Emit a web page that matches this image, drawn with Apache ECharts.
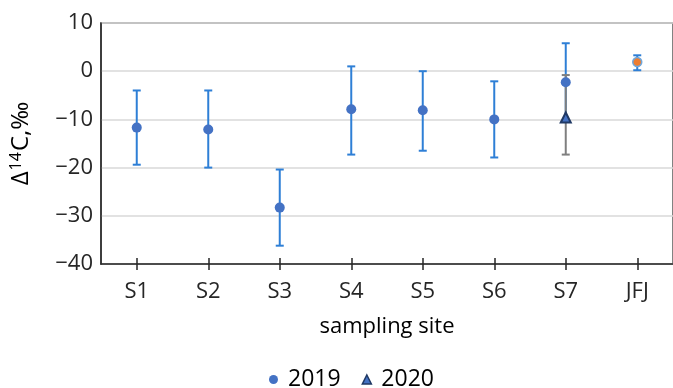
<!DOCTYPE html>
<html>
<head>
<meta charset="utf-8">
<script src="https://cdn.jsdelivr.net/npm/echarts@6/dist/echarts.min.js"></script>
<style>
  html, body { margin: 0; padding: 0; background: #fff; }
  #chart { width: 673px; height: 388px; }
</style>
</head>
<body>
<div id="chart"></div>
<script>
// sampling sites
const sites = ['S1', 'S2', 'S3', 'S4', 'S5', 'S6', 'S7', 'JFJ'];
// 2019 values (JFJ drawn separately in orange)
const mean2019 = [-11.7, -12.1, -28.3, -7.9, -8.1, -10.0, -2.3, null];
const low2019 = [-19.4, -20.0, -36.2, -17.3, -16.5, -17.9, -10.3, null];
const high2019 = [-4.0, -4.0, -20.4, 1.0, 0.0, -2.1, 5.8, null];
// JFJ reference
const meanJFJ = [null, null, null, null, null, null, null, 1.9];
const lowJFJ = [null, null, null, null, null, null, null, 0.2];
const highJFJ = [null, null, null, null, null, null, null, 3.3];
// 2020 (S7 only)
const mean2020 = [null, null, null, null, null, null, -9.6, null];
const low2020 = [null, null, null, null, null, null, -17.3, null];
const high2020 = [null, null, null, null, null, null, -0.8, null];

const FONT = 'Open Sans';

// 误差线数据
function errData(lo, hi) {
  return sites.map((s, i) => lo[i] == null ? null : [i, lo[i], hi[i]]).filter(d => d);
}

function errSeries(lo, hi, color, z) {
  return {
    type: 'custom',
    z: z,
    silent: true,
    renderItem: function (params, api) {
      const x = api.value(0);
      const top = api.coord([x, api.value(2)]);
      const bot = api.coord([x, api.value(1)]);
      const cap = 4;
      const style = { stroke: color, lineWidth: 2 };
      return {
        type: 'group',
        children: [
          { type: 'line', shape: { x1: top[0], y1: top[1], x2: bot[0], y2: bot[1] }, style: style },
          { type: 'line', shape: { x1: top[0] - cap, y1: top[1], x2: top[0] + cap, y2: top[1] }, style: style },
          { type: 'line', shape: { x1: bot[0] - cap, y1: bot[1], x2: bot[0] + cap, y2: bot[1] }, style: style }
        ]
      };
    },
    encode: { x: 0, y: [1, 2] },
    data: errData(lo, hi)
  };
}

const chart = echarts.init(document.getElementById('chart'));
chart.setOption({
  animation: false,
  grid: {
    left: 100, top: 23, width: 582, height: 241,
    show: true, borderColor: '#595959', borderWidth: 1.5, backgroundColor: 'transparent'
  },
  legend: {
    left: 264, top: 363,
    itemGap: 21,
    itemWidth: 9, itemHeight: 9,
    textStyle: { fontFamily: FONT, fontSize: 23, color: '#000', padding: [0, 0, 0, 5] },
    data: [
      { name: '2019', icon: 'circle', itemStyle: { color: '#4472c4' } },
      { name: '2020', icon: 'triangle', itemStyle: { color: '#4472c4', borderColor: '#1f3864', borderWidth: 1.5 } }
    ]
  },
  xAxis: [{
    type: 'category',
    data: sites,
    name: 'sampling site',
    nameLocation: 'middle',
    nameGap: 52,
    nameTextStyle: { fontFamily: FONT, fontSize: 22, color: '#000' },
    axisLine: { onZero: false, lineStyle: { color: '#262626', width: 1.5 } },
    axisTick: { show: true, alignWithLabel: true, length: 6, lineStyle: { color: '#262626', width: 1.5 } },
    axisLabel: { fontFamily: FONT, fontSize: 22, color: '#262626', margin: 17 },
    splitLine: { show: false }
  }, {
    // 轴上方的刻度
    type: 'category',
    data: sites,
    position: 'bottom',
    axisLine: { show: false, onZero: false },
    axisTick: { show: true, inside: true, alignWithLabel: true, length: 6, lineStyle: { color: '#262626', width: 1.5 } },
    axisLabel: { show: false },
    splitLine: { show: false }
  }],
  yAxis: {
    type: 'value',
    min: -40, max: 10, interval: 10,
    name: '{d|Δ}{s|14}{d|C,‰}',
    nameLocation: 'middle',
    nameGap: 67,
    nameTextStyle: {
      rich: {
        d: { fontFamily: FONT, fontSize: 24, color: '#000' },
        s: { fontFamily: FONT, fontSize: 16, color: '#000', verticalAlign: 'top', padding: [0, 1, 10, 1] }
      }
    },
    axisLine: { show: true, lineStyle: { color: '#262626', width: 1.5 } },
    axisTick: { show: false },
    axisLabel: {
      fontFamily: FONT, fontSize: 22, color: '#262626', margin: 8,
      formatter: v => v < 0 ? '\u2212' + Math.abs(v) : String(v)
    },
    splitLine: { lineStyle: { color: '#d9d9d9', width: 1.5 } }
  },
  series: [
    errSeries(low2019, high2019, '#2e7fd6', 2),
    errSeries(lowJFJ, highJFJ, '#2e7fd6', 2),
    errSeries(low2020, high2020, '#7f7f7f', 3),
    {
      name: '2019', type: 'scatter', z: 4,
      symbol: 'circle', symbolSize: 10,
      itemStyle: { color: '#4472c4', opacity: 1 },
      data: mean2019
    },
    {
      name: 'JFJ', type: 'scatter', z: 4,
      symbol: 'circle', symbolSize: 9,
      itemStyle: { color: '#ed7d31', borderColor: '#6fa8dc', borderWidth: 1.5, opacity: 1 },
      data: meanJFJ
    },
    {
      name: '2020', type: 'scatter', z: 5,
      symbol: 'triangle', symbolSize: 10,
      itemStyle: { color: '#4472c4', borderColor: '#1f3864', borderWidth: 2, opacity: 1 },
      data: mean2020
    }
  ]
});
</script>
</body>
</html>
